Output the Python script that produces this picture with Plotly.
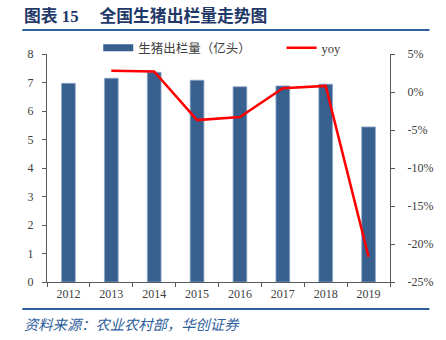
import plotly.graph_objects as go

# ---- data ----
years = ["2012", "2013", "2014", "2015", "2016", "2017", "2018", "2019"]
output_bn = [6.97, 7.15, 7.36, 7.08, 6.85, 6.88, 6.94, 5.44]  # 生猪出栏量（亿头）
yoy_years = ["2013", "2014", "2015", "2016", "2017", "2018", "2019"]
yoy_pct = [2.8, 2.7, -3.7, -3.3, 0.5, 0.8, -21.7]
left_ticks = [0, 1, 2, 3, 4, 5, 6, 7, 8]
right_ticks = [5, 0, -5, -10, -15, -20, -25]
right_labels = ["5%", "0%", "-5%", "-10%", "-15%", "-20%", "-25%"]

title_text = "图表 15　 全国生猪出栏量走势图"
source_text = "资料来源：农业农村部，华创证券"
bar_name = "生猪出栏量（亿头）"
line_name = "yoy"

# ---- layout geometry (pixels) ----
W, H = 446, 340
L, R, T, B = 47, 395, 54, 282

def px(x):
    return (x - L) / (R - L)

def py(y):
    return (B - y) / (B - T)

BAR_COLOR = "#38608F"
LINE_COLOR = "#FF0000"
NAVY = "#1F3A68"
BLUE = "#2E5E9C"
AXIS = "#595959"
TXT = "#404040"
SERIF = "Liberation Serif, Times New Roman, Noto Sans CJK SC, serif"

fig = go.Figure()
fig.add_trace(go.Bar(
    x=years, y=output_bn, name=bar_name, width=0.32,
    marker=dict(color=BAR_COLOR, line=dict(color="#8AA6C8", width=0.8)),
    showlegend=False, yaxis="y",
))
# legend proxy for bar series
fig.add_trace(go.Scatter(
    x=[None], y=[None], mode="lines", name=bar_name,
    line=dict(color=BAR_COLOR, width=7), legend="legend",
))
fig.add_trace(go.Scatter(
    x=yoy_years, y=yoy_pct, mode="lines", name=line_name,
    line=dict(color=LINE_COLOR, width=2.5), yaxis="y2", legend="legend2",
))

fig.update_layout(
    width=W, height=H,
    margin=dict(l=L, r=W - R, t=T, b=H - B, pad=0),
    paper_bgcolor="white", plot_bgcolor="white",
    font=dict(family=SERIF, size=12, color=TXT),
    xaxis=dict(
        type="category", tickson="boundaries", ticks="outside", ticklen=4,
        tickcolor=AXIS, showline=True, linecolor=AXIS, linewidth=1.2,
        showgrid=False, tickfont=dict(family=SERIF, size=12, color=TXT),
        range=[-0.5, 7.5],
    ),
    yaxis=dict(
        range=[0, 8], tickvals=left_ticks, ticks="outside", ticklen=4,
        tickcolor=AXIS, showline=True, linecolor=AXIS, linewidth=1.2,
        showgrid=False, zeroline=False,
        tickfont=dict(family=SERIF, size=12, color=TXT), ticklabelstandoff=6,
    ),
    yaxis2=dict(
        overlaying="y", side="right", range=[-25, 5],
        tickvals=right_ticks, ticktext=right_labels, ticks="outside", ticklen=4,
        tickcolor=AXIS, showline=True, linecolor=AXIS, linewidth=1.2,
        showgrid=False, zeroline=False,
        tickfont=dict(family=SERIF, size=12, color=TXT), ticklabelstandoff=10,
    ),
    legend=dict(
        x=px(99), y=py(48), xanchor="left", yanchor="middle",
        orientation="h", bgcolor="rgba(0,0,0,0)", itemwidth=30,
        font=dict(family="Noto Sans CJK SC, sans-serif", size=12.5, color=TXT),
    ),
    legend2=dict(
        x=px(285), y=py(48), xanchor="left", yanchor="middle",
        orientation="h", bgcolor="rgba(0,0,0,0)", itemwidth=30,
        font=dict(family=SERIF, size=12.5, color=TXT),
    ),
    shapes=[
        dict(type="line", xref="paper", yref="paper", x0=px(22), x1=px(435),
             y0=py(30), y1=py(30), line=dict(color=BLUE, width=2)),
        dict(type="line", xref="paper", yref="paper", x0=px(22), x1=px(435),
             y0=py(309), y1=py(309), line=dict(color=BLUE, width=2)),
    ],
    annotations=[
        dict(text="<b>" + title_text + "</b>", xref="paper", yref="paper",
             x=px(22), y=py(16), xanchor="left", yanchor="middle",
             showarrow=False,
             font=dict(family="Liberation Serif, Noto Sans CJK SC", size=16.8, color=NAVY)),
        dict(text=source_text, xref="paper", yref="paper",
             x=px(22), y=py(323), xanchor="left", yanchor="middle",
             showarrow=False,
             font=dict(family="Noto Sans CJK SC, sans-serif", size=14.3, color=BLUE,
                       style="italic")),
    ],
)

fig.write_html("out.html")
